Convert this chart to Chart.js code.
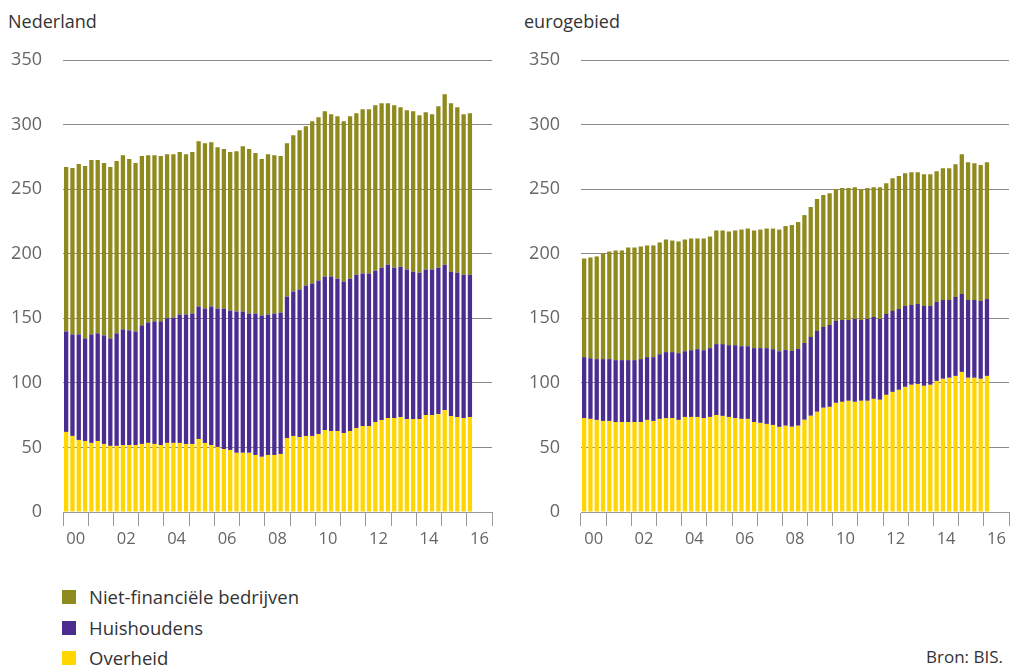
<!DOCTYPE html>
<html>
<head>
<meta charset="utf-8">
<script src="https://cdn.jsdelivr.net/npm/chart.js@4.4.0/dist/chart.umd.min.js"></script>
<style>
  html, body { margin: 0; padding: 0; background: #fff; }
  body { width: 1011px; height: 665px; position: relative; overflow: hidden; font-family: "Open Sans", sans-serif; color: #333; }
  .title { position: absolute; top: 9px; font-size: 18px; color: #333; }
  .wrap { position: absolute; top: 0; }
  .legend { position: absolute; left: 62px; top: 582px; font-size: 18.5px; color: #333; }
  .legend div { height: 30.5px; line-height: 30px; position: relative; padding-left: 27px; }
  .legend span { position: absolute; left: 0; top: 8px; width: 14px; height: 14px; }
  .source { position: absolute; right: 8px; top: 645px; font-size: 17px; color: #333; }
</style>
</head>
<body>
<div class="title" style="left:8px">Nederland</div>
<div class="title" style="left:524px">eurogebied</div>
<div class="wrap" style="left:0px;width:500px;height:552px"><canvas id="nl"></canvas></div>
<div class="wrap" style="left:518px;width:493px;height:552px"><canvas id="ea"></canvas></div>
<div class="legend">
  <div><span style="background:#8f8a1d"></span>Niet-financiële bedrijven</div>
  <div><span style="background:#4b2d91"></span>Huishoudens</div>
  <div><span style="background:#ffd600"></span>Overheid</div>
</div>
<div class="source">Bron: BIS.</div>
<script>
// Quarterly categories 2000Q1 .. 2016Q4 (data through 2016Q1)
const years = ['00','01','02','03','04','05','06','07','08','09','10','11','12','13','14','15','16'];
const categories = [];
years.forEach(y => { for (let q = 1; q <= 4; q++) categories.push(y + 'K' + q); });
const yearTickLabels = ['00','02','04','06','08','10','12','14','16'];
const yTicks = [0, 50, 100, 150, 200, 250, 300, 350];

const seriesNames = ['Overheid', 'Huishoudens', 'Niet-financiële bedrijven'];
const seriesColors = ['#ffd600', '#4b2d91', '#8f8a1d'];

// Nederland
const nlOverheid = [62.0,58.9,55.8,55.0,53.5,55.0,52.7,51.2,51.2,51.9,51.9,51.9,52.7,53.5,52.7,51.9,53.5,53.5,53.5,52.7,52.7,56.6,53.5,51.9,50.4,48.8,48.1,45.8,45.8,45.8,44.2,42.7,44.2,44.2,45.0,57.3,58.9,58.1,58.9,58.9,60.4,63.5,62.7,62.7,61.2,62.7,65.0,66.6,66.6,69.7,71.2,72.8,72.8,73.5,72.0,72.0,72.0,75.1,75.1,75.8,78.9,74.3,73.5,72.8,73.5];
const nlHuishoudens = [77.8,78.6,81.7,79.4,84.0,83.3,84.1,83.2,87.1,89.5,88.7,87.9,91.8,93.3,94.9,95.7,96.4,97.1,99.5,100.3,101.0,102.5,104.1,107.2,107.2,108.8,107.9,109.5,109.5,107.9,109.5,109.5,108.8,109.5,109.5,109.5,111.8,114.1,116.4,118.0,118.8,118.8,119.6,118.0,117.2,118.0,118.8,118.0,118.0,117.2,118.0,118.7,116.4,116.5,115.7,114.1,113.3,112.6,112.6,113.4,112.6,111.8,111.8,111.0,110.3];
const nlBedrijven = [127.3,128.8,131.9,133.5,135.0,134.2,133.4,132.7,133.4,134.9,132.7,130.4,131.1,129.5,128.7,128.0,127.2,126.5,125.7,124.1,125.0,128.0,128.0,127.3,124.9,123.4,122.7,124.1,128.0,127.3,124.2,121.1,124.1,122.6,121.1,118.8,121.1,123.4,123.4,125.7,126.5,128.0,125.7,125.7,124.2,125.7,124.9,127.2,127.2,128.0,127.3,125.0,125.7,123.4,123.4,124.2,121.9,121.8,120.3,124.9,131.9,130.4,128.1,124.2,124.9];

// eurogebied
const eaOverheid = [72.8,72.1,71.3,70.5,70.5,69.7,69.7,69.7,69.7,69.7,71.3,70.5,72.1,72.8,72.8,71.3,73.6,73.6,73.6,72.8,73.6,75.1,74.4,73.6,72.8,72.1,72.1,69.7,69.0,68.2,67.4,65.9,66.8,66.0,66.8,71.4,74.5,77.6,80.7,81.4,84.5,85.3,86.1,85.3,86.1,86.1,87.6,86.9,90.7,93.0,94.6,96.9,98.5,99.2,97.7,98.5,101.5,103.1,103.9,105.4,108.5,103.9,103.9,103.1,105.4];
const eaHuishoudens = [47.1,47.0,47.1,47.9,47.9,47.9,47.9,47.9,47.9,48.7,48.6,49.4,50.1,51.0,51.0,51.7,50.9,51.7,52.5,52.5,53.3,54.9,55.6,55.6,56.4,56.3,56.3,57.2,57.9,58.7,58.7,58.6,58.7,58.7,59.5,59.5,61.1,62.6,62.6,63.4,63.4,63.4,62.6,64.2,62.6,63.4,63.4,62.6,62.7,62.7,62.6,62.6,61.8,61.9,61.8,61.0,61.1,61.1,60.3,61.1,60.3,60.3,60.3,60.3,59.5];
const eaBedrijven = [76.4,78.0,79.5,81.8,83.3,84.9,84.9,87.2,87.2,87.2,86.5,86.5,86.5,87.2,86.4,86.5,86.5,86.5,85.7,86.5,86.4,88.0,88.0,88.0,88.8,90.3,91.1,91.1,91.8,92.6,93.4,94.2,95.9,97.5,98.2,99.0,100.5,102.1,102.1,102.1,102.1,102.1,102.1,102.0,101.3,101.3,100.5,102.0,101.2,102.8,102.9,102.9,102.8,102.0,102.1,102.1,101.3,102.0,102.0,102.8,108.3,106.7,105.9,105.2,106.0];

const FONT = '"Open Sans", sans-serif';

function makeChart(id, series, padRight) {
  const datasets = series.map((data, i) => ({
    label: seriesNames[i],
    data: data,
    backgroundColor: seriesColors[i],
    borderWidth: 0,
    barPercentage: 0.68,
    categoryPercentage: 1.0
  }));
  return new Chart(document.getElementById(id), {
    type: 'bar',
    data: { labels: categories, datasets: datasets },
    options: {
      responsive: true,
      maintainAspectRatio: false,
      animation: false,
      events: [],
      layout: { padding: { top: 60, right: padRight, bottom: 0, left: 0 } },
      plugins: { legend: { display: false }, tooltip: { enabled: false }, title: { display: false } },
      scales: {
        x: {
          stacked: true,
          offset: true,
          afterFit: (s) => { s.height = 40; },
          border: { display: true, color: '#9a9a9a', width: 1 },
          grid: {
            offset: true,
            drawOnChartArea: false,
            drawTicks: true,
            tickLength: 14,
            lineWidth: 1,
            color: (ctx) => (ctx.index === undefined || ctx.index % 4 === 0) ? '#9a9a9a' : 'rgba(0,0,0,0)'
          },
          ticks: {
            autoSkip: false,
            maxRotation: 0,
            minRotation: 0,
            padding: 3,
            labelOffset: 3.2,
            color: '#666',
            font: { family: FONT, size: 16.5 },
            callback: (v, i) => (i % 8 === 1) ? yearTickLabels[(i - 1) / 8] : ''
          }
        },
        y: {
          stacked: true,
          min: 0,
          max: 350,
          afterFit: (s) => { s.width = 63; },
          afterBuildTicks: (s) => { s.ticks = yTicks.map(v => ({ value: v })); },
          border: { display: false },
          grid: {
            drawTicks: false,
            tickLength: 0,
            lineWidth: 1,
            color: (ctx) => ctx.tick && ctx.tick.value === 0 ? 'rgba(0,0,0,0)' : '#8a8a8a'
          },
          ticks: {
            padding: 21,
            color: '#666',
            font: { family: FONT, size: 18 }
          }
        }
      }
    }
  });
}

makeChart('nl', [nlOverheid, nlHuishoudens, nlBedrijven], 8);
makeChart('ea', [eaOverheid, eaHuishoudens, eaBedrijven], 2);
</script>
</body>
</html>
